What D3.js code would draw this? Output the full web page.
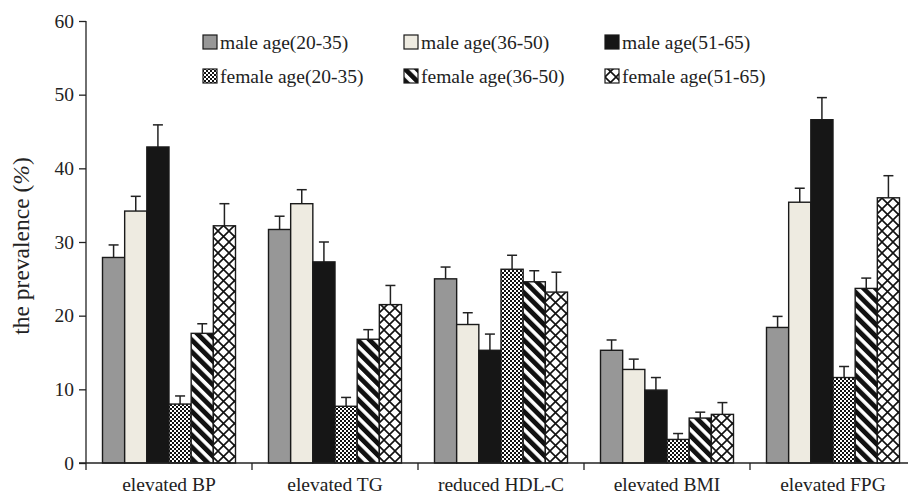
<!DOCTYPE html>
<html>
<head>
<meta charset="utf-8">
<script src="https://cdn.jsdelivr.net/npm/d3@7"></script>
<style>
  html, body { margin: 0; padding: 0; background: #fff; }
  svg { display: block; }
  text { font-family: "Liberation Serif", "Times New Roman", serif; fill: #222; }
</style>
</head>
<body>
<svg id="chart" width="908" height="494"></svg>
<script>
// Prevalence by sex and age group, five metabolic components.

const categories = ["elevated BP", "elevated TG", "reduced HDL-C", "elevated BMI", "elevated FPG"];
const seriesNames = [
  "male age(20-35)", "male age(36-50)", "male age(51-65)",
  "female age(20-35)", "female age(36-50)", "female age(51-65)",
];

// bar heights (%), one value per category
const maleYoung = [27.9, 31.7, 25.0, 15.3, 18.4];
const maleMid   = [34.2, 35.2, 18.8, 12.7, 35.4];
const maleOld   = [42.9, 27.3, 15.3, 9.9, 46.6];
const femYoung  = [8.0, 7.7, 26.3, 3.2, 11.6];
const femMid    = [17.6, 16.8, 24.6, 6.1, 23.7];
const femOld    = [32.2, 21.5, 23.2, 6.6, 36.0];

// upper error bar lengths (%)
const maleYoungErr = [1.7, 1.8, 1.6, 1.4, 1.5];
const maleMidErr   = [2.0, 1.9, 1.6, 1.4, 1.9];
const maleOldErr   = [3.0, 2.7, 2.2, 1.7, 3.0];
const femYoungErr  = [1.1, 1.2, 1.9, 0.8, 1.5];
const femMidErr    = [1.3, 1.3, 1.5, 0.8, 1.4];
const femOldErr    = [3.0, 2.6, 2.7, 1.6, 3.0];

const yTicks = [0, 10, 20, 30, 40, 50, 60];

const seriesVals = [maleYoung, maleMid, maleOld, femYoung, femMid, femOld];
const seriesErrs = [maleYoungErr, maleMidErr, maleOldErr, femYoungErr, femMidErr, femOldErr];
const fills = ["#979797", "#eeebe1", "#161616", "url(#checker)", "url(#stripes)", "url(#lattice)"];

const X0 = 86, BAND = 166, Y0 = 463, Y60 = 21;
const FONT = "19.5px";

const svg = d3.select("#chart");

// ---- patterns
const defs = svg.append("defs");
const checker = defs.append("pattern").attr("id", "checker")
  .attr("patternUnits", "userSpaceOnUse").attr("width", 4).attr("height", 4);
checker.append("rect").attr("width", 4).attr("height", 4).attr("fill", "#fff");
checker.append("rect").attr("width", 2).attr("height", 2).attr("fill", "#111");
checker.append("rect").attr("x", 2).attr("y", 2).attr("width", 2).attr("height", 2).attr("fill", "#111");

const stripes = defs.append("pattern").attr("id", "stripes")
  .attr("patternUnits", "userSpaceOnUse").attr("width", 8.4).attr("height", 8.4)
  .attr("patternTransform", "rotate(-45)");
stripes.append("rect").attr("width", 8.4).attr("height", 8.4).attr("fill", "#fff");
stripes.append("rect").attr("width", 4.8).attr("height", 8.4).attr("fill", "#111");

const lattice = defs.append("pattern").attr("id", "lattice")
  .attr("patternUnits", "userSpaceOnUse").attr("width", 11).attr("height", 11);
lattice.append("rect").attr("width", 11).attr("height", 11).attr("fill", "#fff");
lattice.append("path").attr("d", "M-1,-1L12,12M12,-1L-1,12")
  .attr("stroke", "#111").attr("stroke-width", 1.6).attr("fill", "none");

// ---- scales
const x0 = d3.scaleBand().domain(categories).range([X0, X0 + BAND * categories.length]);
const x1 = d3.scaleBand().domain(d3.range(seriesNames.length)).range([16.5, BAND - 16.5]);
const y = d3.scaleLinear().domain([0, 60]).range([Y0, Y60]);

// ---- y axis
const yAxis = svg.append("g").attr("transform", `translate(${X0},0)`)
  .call(d3.axisLeft(y).tickValues(yTicks).tickSize(7).tickPadding(5).tickSizeOuter(0));
yAxis.select(".domain").remove();
yAxis.selectAll("line").attr("stroke", "#222").attr("stroke-width", 1.3);
yAxis.selectAll("text").style("font-size", FONT).style("font-family", "Liberation Serif").attr("fill", "#222");
svg.append("line").attr("x1", X0).attr("x2", X0).attr("y1", y(60)).attr("y2", Y0 + 7)
  .attr("stroke", "#222").attr("stroke-width", 1.3);

const title = svg.append("text")
  .attr("transform", `translate(24,${(Y0 + Y60) / 2 + 4}) rotate(-90)`)
  .attr("text-anchor", "middle").attr("dominant-baseline", "middle")
  .style("font-size", "23.5px");
title.append("tspan").text("the prevalence (");
title.append("tspan").style("font-style", "italic").text("%");
title.append("tspan").text(")");

// ---- bars
const groups = svg.append("g").selectAll("g.cat").data(categories).enter().append("g")
  .attr("class", "cat").attr("transform", (c) => `translate(${x0(c)},0)`);

groups.each(function (c, ci) {
  const g = d3.select(this);
  seriesNames.forEach((s, si) => {
    const v = seriesVals[si][ci], e = seriesErrs[si][ci];
    const bx = x1(si), bw = x1.bandwidth();
    g.append("line")
      .attr("x1", bx + bw / 2).attr("x2", bx + bw / 2)
      .attr("y1", y(v)).attr("y2", y(v + e))
      .attr("stroke", "#222").attr("stroke-width", 1.5);
    g.append("line")
      .attr("x1", bx + bw / 2 - 5).attr("x2", bx + bw / 2 + 5)
      .attr("y1", y(v + e)).attr("y2", y(v + e))
      .attr("stroke", "#222").attr("stroke-width", 1.5);
    g.append("rect")
      .attr("x", bx).attr("width", bw)
      .attr("y", y(v)).attr("height", Y0 - y(v))
      .attr("fill", fills[si]).attr("stroke", "#1a1a1a").attr("stroke-width", 1.4);
  });
});

// ---- x axis
svg.append("line").attr("x1", X0 - 7).attr("x2", 908).attr("y1", Y0).attr("y2", Y0)
  .attr("stroke", "#222").attr("stroke-width", 1.3);
svg.append("g").selectAll("line").data(categories.slice(1)).enter().append("line")
  .attr("x1", (c) => x0(c)).attr("x2", (c) => x0(c))
  .attr("y1", Y0).attr("y2", Y0 + 7)
  .attr("stroke", "#222").attr("stroke-width", 1.3);
svg.append("g").selectAll("text").data(categories).enter().append("text")
  .attr("x", (c) => x0(c) + x0.bandwidth() / 2)
  .attr("y", 491)
  .attr("text-anchor", "middle")
  .style("font-size", FONT)
  .text((c) => c);

// ---- legend
const legend = svg.append("g");
seriesNames.forEach((s, i) => {
  const col = i % 3, row = Math.floor(i / 3);
  const lx = 203 + col * 201, ly = 35 + row * 34;
  legend.append("rect").attr("x", lx).attr("y", ly).attr("width", 14).attr("height", 14)
    .attr("fill", fills[i]).attr("stroke", "#1a1a1a").attr("stroke-width", 1.2);
  legend.append("text").attr("x", lx + 17).attr("y", ly + 14)
    .style("font-size", FONT).text(s);
});
</script>
</body>
</html>
